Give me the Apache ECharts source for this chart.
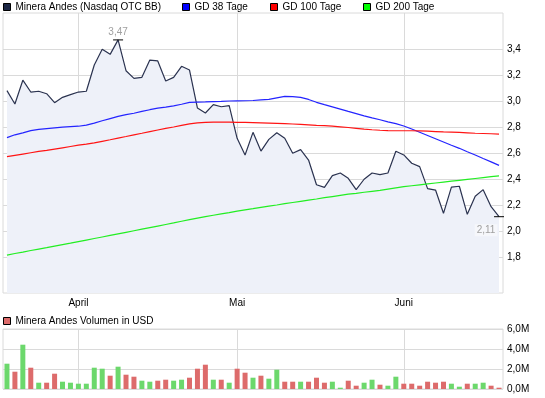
<!DOCTYPE html>
<html>
<head>
<meta charset="utf-8">
<script src="https://cdn.jsdelivr.net/npm/echarts@6/dist/echarts.min.js"></script>
<style>
html, body { margin: 0; padding: 0; background: #fff; }
#chart { width: 545px; height: 398px; }
</style>
</head>
<body>
<div id="chart"></div>
<script>
// Schlusskurse (USD), 21.03.2011 - 17.06.2011
var price = [3.08, 2.977, 3.16, 3.069, 3.075, 3.056, 2.987, 3.028, 3.049, 3.069,
  3.075, 3.277, 3.398, 3.359, 3.47, 3.233, 3.174, 3.182, 3.315, 3.308,
  3.154, 3.182, 3.267, 3.238, 2.946, 2.908, 2.972, 2.956, 2.964, 2.713,
  2.585, 2.759, 2.615, 2.705, 2.756, 2.713, 2.598, 2.626, 2.546, 2.356,
  2.336, 2.426, 2.446, 2.405, 2.318, 2.398, 2.446, 2.433, 2.446, 2.613,
  2.585, 2.521, 2.495, 2.326, 2.315, 2.136, 2.338, 2.344, 2.128, 2.267,
  2.318, 2.187, 2.11];
var gd38 = [2.718, 2.74, 2.755, 2.772, 2.782, 2.788, 2.794, 2.799, 2.803, 2.806,
  2.815, 2.83, 2.848, 2.865, 2.882, 2.895, 2.906, 2.92, 2.933, 2.945,
  2.953, 2.962, 2.975, 2.99, 2.992, 2.993, 2.995, 2.997, 3.0, 3.001,
  3.002, 3.004, 3.008, 3.012, 3.024, 3.036, 3.034, 3.028, 3.012, 2.99,
  2.972, 2.955, 2.938, 2.92, 2.903, 2.886, 2.87, 2.856, 2.84, 2.826,
  2.808, 2.785, 2.76, 2.735, 2.71, 2.685, 2.66, 2.636, 2.61, 2.585,
  2.558, 2.532, 2.505];
var gd100 = [2.572, 2.582, 2.592, 2.602, 2.612, 2.62, 2.63, 2.64, 2.65, 2.66,
  2.668, 2.678, 2.69, 2.702, 2.715, 2.727, 2.74, 2.752, 2.765, 2.777,
  2.789, 2.8, 2.812, 2.824, 2.832, 2.836, 2.838, 2.838, 2.837, 2.836,
  2.835, 2.834, 2.832, 2.83, 2.828, 2.826, 2.823, 2.82, 2.817, 2.813,
  2.81, 2.806, 2.801, 2.796, 2.79, 2.784, 2.779, 2.775, 2.772, 2.771,
  2.771, 2.771, 2.77, 2.768, 2.765, 2.762, 2.76, 2.758, 2.755, 2.752,
  2.75, 2.748, 2.745];
var gd200 = [1.815, 1.827, 1.838, 1.85, 1.861, 1.872, 1.884, 1.895, 1.906, 1.918,
  1.93, 1.942, 1.954, 1.966, 1.978, 1.99, 2.002, 2.014, 2.026, 2.038,
  2.05, 2.062, 2.075, 2.087, 2.099, 2.11, 2.121, 2.132, 2.142, 2.153,
  2.163, 2.172, 2.182, 2.191, 2.2, 2.21, 2.219, 2.228, 2.237, 2.246,
  2.256, 2.265, 2.274, 2.283, 2.29, 2.298, 2.305, 2.312, 2.322, 2.332,
  2.341, 2.348, 2.355, 2.362, 2.369, 2.376, 2.383, 2.39, 2.397, 2.404,
  2.411, 2.418, 2.424];
// Volumen in Mio. USD
var volume = [2.53, 1.73, 4.43, 2.13, 0.63, 0.63, 1.53, 0.73, 0.63, 0.53,
  0.53, 2.13, 2.03, 1.33, 2.23, 1.43, 1.23, 0.83, 0.73, 0.83,
  0.93, 0.83, 0.93, 1.13, 2.03, 2.43, 0.93, 0.93, 0.63, 2.03,
  1.63, 1.13, 1.33, 1.03, 1.93, 0.73, 0.73, 0.73, 0.73, 1.13,
  0.63, 0.73, 0.13, 0.83, 0.33, 0.63, 0.93, 0.43, 0.33, 1.23,
  0.53, 0.53, 0.33, 0.73, 0.63, 0.73, 0.53, 0.23, 0.53, 0.53,
  0.63, 0.33, 0.13];
var priceTicks = [1.8, 2.0, 2.2, 2.4, 2.6, 2.8, 3.0, 3.2, 3.4];
var monthNames = ['Jan', 'Feb', 'März', 'April', 'Mai', 'Juni', 'Juli', 'Aug', 'Sep', 'Okt', 'Nov', 'Dez'];
var holidays = ['2011-04-22', '2011-05-30'];

// Handelstage
var days = [];
var d = new Date(Date.UTC(2011, 2, 21));
while (days.length < price.length) {
  var s = d.toISOString().slice(0, 10);
  var wd = d.getUTCDay();
  if (wd != 0 && wd != 6 && holidays.indexOf(s) < 0) days.push(s);
  d.setUTCDate(d.getUTCDate() + 1);
}
function monthStart(i) {
  return i > 0 && days[i].slice(5, 7) != days[i - 1].slice(5, 7);
}
function comma(v, n) {
  return v.toFixed(n).replace('.', ',');
}

var FONT = 'Liberation Sans, Arial, sans-serif';
var FS = 10;
var GRID_LINE = '#dadada';

var chart = echarts.init(document.getElementById('chart'));

var legendBase = {
  icon: 'rect', itemWidth: 7, itemHeight: 7, padding: 0, itemGap: 0,
  selectedMode: false,
  itemStyle: { borderColor: '#000', borderWidth: 1 },
  textStyle: { fontFamily: FONT, fontSize: FS, color: '#000', padding: [0, 0, 0, 0] }
};
function legend(name, color, left, top) {
  return Object.assign({}, legendBase, {
    left: left, top: top,
    data: [{ name: name, itemStyle: { color: color } }]
  });
}

function xAxis(gridIndex, labels) {
  return {
    type: 'category', gridIndex: gridIndex, data: days, boundaryGap: true,
    axisLine: { show: false }, axisTick: { show: false },
    axisLabel: {
      show: labels, interval: function (i) { return monthStart(i); },
      formatter: function (v) { return monthNames[+v.slice(5, 7) - 1]; },
      margin: 5, fontFamily: FONT, fontSize: FS, color: '#000'
    },
    splitLine: {
      show: true, alignWithLabel: true,
      interval: function (i) { return monthStart(i); },
      lineStyle: { color: GRID_LINE, width: 1 }
    }
  };
}

chart.setOption({
  animation: false,
  legend: [
    legend('Minera Andes (Nasdaq OTC BB)', '#1c2745', 3, 2),
    legend('GD 38 Tage', '#0000ff', 182, 2),
    legend('GD 100 Tage', '#ff0000', 270, 2),
    legend('GD 200 Tage', '#00ff00', 363, 2),
    legend('Minera Andes Volumen in USD', '#dd6b6b', 3, 316)
  ],
  grid: [
    { left: 3, right: 42, top: 13, height: 280, show: true, borderColor: GRID_LINE, borderWidth: 1 },
    { left: 3, right: 42, top: 329, height: 60, show: true, borderColor: GRID_LINE, borderWidth: 1 }
  ],
  xAxis: [xAxis(0, true), xAxis(1, false)],
  yAxis: [
    {
      type: 'value', gridIndex: 0, position: 'right',
      min: 1.523, max: 3.677,
      axisLine: { show: false },
      axisTick: { show: false, customValues: priceTicks },
      axisLabel: {
        customValues: priceTicks, margin: 4,
        fontFamily: FONT, fontSize: FS, color: '#000',
        formatter: function (v) { return comma(v, 1); }
      },
      splitLine: { lineStyle: { color: GRID_LINE, width: 1 } }
    },
    {
      type: 'value', gridIndex: 1, position: 'right',
      min: 0, max: 6, interval: 2,
      axisLine: { show: false }, axisTick: { show: false },
      axisLabel: {
        margin: 4, fontFamily: FONT, fontSize: FS, color: '#000',
        formatter: function (v) { return comma(v, 1) + 'M'; }
      },
      splitLine: { lineStyle: { color: GRID_LINE, width: 1 } }
    }
  ],
  graphic: [{
    type: 'text', left: 8, top: 282,
    style: { text: '1 Tick = 1 Tag', fill: '#a0a0a0', font: FS + 'px ' + FONT }
  }],
  series: [
    {
      name: 'Minera Andes (Nasdaq OTC BB)', type: 'line', data: price,
      xAxisIndex: 0, yAxisIndex: 0, symbol: 'none',
      lineStyle: { color: '#2b3350', width: 1.2 },
      itemStyle: { color: '#1c2745' },
      areaStyle: { color: '#eef1f9', opacity: 1, origin: 'start' },
      markPoint: {
        symbol: 'rect', symbolSize: [10, 1],
        itemStyle: { color: '#000' },
        label: {
          color: '#a0a0a0', fontFamily: FONT, fontSize: FS,
          formatter: function (p) { return comma(p.value, 2); }
        },
        data: [
          { type: 'max', label: { position: 'top', distance: 2 } },
          { type: 'min', label: { position: 'bottom', distance: 7, offset: [-13, 0],
            backgroundColor: '#f6f7fb', padding: [1, 2] } }
        ]
      }
    },
    {
      name: 'GD 38 Tage', type: 'line', data: gd38, symbol: 'none',
      xAxisIndex: 0, yAxisIndex: 0,
      lineStyle: { color: '#2424ff', width: 1.2 }, itemStyle: { color: '#0000ff' }
    },
    {
      name: 'GD 100 Tage', type: 'line', data: gd100, symbol: 'none',
      xAxisIndex: 0, yAxisIndex: 0,
      lineStyle: { color: '#ff1414', width: 1.2 }, itemStyle: { color: '#ff0000' }
    },
    {
      name: 'GD 200 Tage', type: 'line', data: gd200, symbol: 'none',
      xAxisIndex: 0, yAxisIndex: 0,
      lineStyle: { color: '#22ee22', width: 1.2 }, itemStyle: { color: '#00ff00' }
    },
    {
      name: 'Minera Andes Volumen in USD', type: 'bar', data: volume,
      xAxisIndex: 1, yAxisIndex: 1, barWidth: 5,
      itemStyle: {
        color: function (p) {
          var i = p.dataIndex;
          return (i == 0 || price[i] >= price[i - 1]) ? '#6cd86c' : '#dd6b6b';
        }
      }
    }
  ]
});
</script>
</body>
</html>
